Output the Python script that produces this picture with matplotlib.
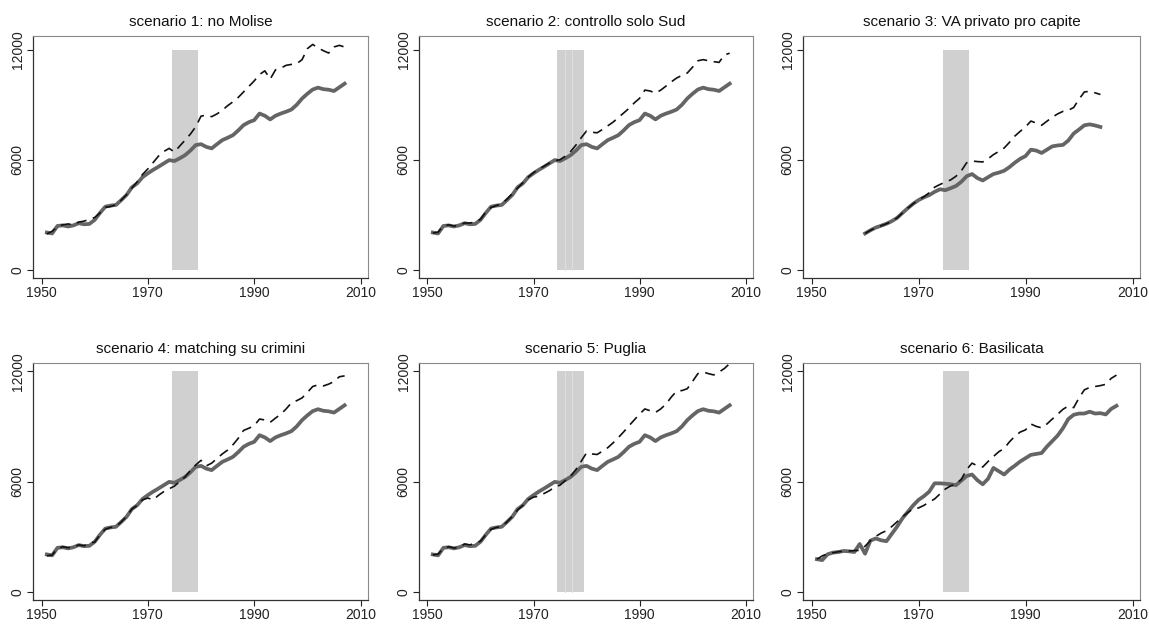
import numpy as np
import matplotlib
matplotlib.use("Agg")
import matplotlib.pyplot as plt

plt.rcParams['font.family'] = ['Liberation Sans', 'DejaVu Sans']

# --- data ---
years = np.arange(1951, 2008)
years3 = np.arange(1960, 2005)
band_years = [1975, 1976, 1977, 1978, 1979]
band_top = 12000

titles = ["scenario 1: no Molise", "scenario 2: controllo solo Sud",
          "scenario 3: VA privato pro capite", "scenario 4: matching su crimini",
          "scenario 5: Puglia", "scenario 6: Basilicata"]

actual = [2030, 1980, 2390, 2420, 2360, 2420, 2540, 2480, 2500, 2720,
          3100, 3440, 3500, 3535, 3800, 4080, 4500, 4710, 5050, 5260,
          5450, 5620, 5800, 5980, 5930, 6080, 6250, 6500, 6800, 6850,
          6700, 6620, 6850, 7070, 7200, 7340, 7600, 7890, 8050, 8160,
          8520, 8400, 8200, 8400, 8520, 8620, 8740, 9000, 9340, 9600,
          9830, 9935, 9850, 9820, 9750, 9950, 10150]

synth1 = [1950, 2100, 2350, 2450, 2500, 2450, 2600, 2650, 2750, 2850,
          3100, 3400, 3450, 3550, 3800, 4100, 4450, 4800, 5200, 5500,
          5850, 6200, 6450, 6620, 6420, 6750, 7070, 7400, 7800, 8380,
          8430, 8350, 8500, 8700, 8950, 9160, 9400, 9700, 10000, 10300,
          10650, 10850, 10400, 10900, 11000, 11150, 11200, 11240, 11460, 12060,
          12290, 12100, 11950, 11820, 12150, 12240, 12150]

synth2 = [2000, 2050, 2400, 2450, 2380, 2450, 2550, 2550, 2600, 2750,
          3150, 3400, 3500, 3600, 3850, 4150, 4450, 4750, 5050, 5300,
          5480, 5650, 5820, 5950, 6000, 6200, 6450, 6800, 7200, 7570,
          7500, 7470, 7650, 7850, 8050, 8300, 8550, 8800, 9100, 9350,
          9800, 9750, 9630, 9800, 10020, 10250, 10460, 10600, 10730, 11050,
          11400, 11460, 11400, 11350, 11310, 11720, 11810]

actual3 = [1980, 2150, 2300, 2400, 2510, 2650, 2830, 3100, 3360, 3600,
           3800, 3950, 4070, 4250, 4390, 4340, 4450, 4570, 4800, 5100,
           5220, 5000, 4870, 5050, 5220, 5300, 5400, 5600, 5840, 6050,
           6200, 6550, 6500, 6370, 6550, 6730, 6780, 6810, 7050, 7430,
           7650, 7880, 7930, 7870, 7790]

synth3 = [1980, 2150, 2300, 2400, 2510, 2650, 2830, 3100, 3360, 3600,
          3820, 3980, 4200, 4500, 4650, 4780, 4900, 5100, 5400, 5840,
          5930, 5900, 5880, 6050, 6280, 6450, 6640, 6950, 7290, 7550,
          7790, 8110, 8000, 7880, 8100, 8320, 8500, 8640, 8700, 8850,
          9300, 9700, 9730, 9650, 9560]

synth4 = [1950, 2000, 2350, 2450, 2400, 2420, 2550, 2500, 2650, 2700,
          3100, 3400, 3500, 3550, 3800, 4100, 4500, 4700, 5000, 5100,
          5000, 5250, 5450, 5600, 5750, 6000, 6250, 6600, 6900, 7150,
          6850, 7000, 7250, 7500, 7710, 8000, 8350, 8780, 8900, 9040,
          9400, 9350, 9220, 9450, 9660, 9950, 10280, 10400, 10550, 10850,
          11170, 11260, 11200, 11300, 11440, 11700, 11750]

synth5 = [2000, 2050, 2350, 2450, 2380, 2420, 2600, 2550, 2650, 2750,
          3100, 3400, 3500, 3550, 3800, 4100, 4450, 4700, 5000, 5150,
          5200, 5350, 5500, 5700, 5800, 6050, 6300, 6650, 7100, 7560,
          7500, 7470, 7650, 7840, 8100, 8390, 8700, 9030, 9350, 9670,
          9950, 9850, 9760, 9950, 10220, 10600, 10920, 10950, 11050, 11450,
          11870, 11960, 11870, 11800, 11960, 12150, 12420]

actual6 = [1770, 1720, 2040, 2130, 2160, 2220, 2200, 2160, 2600, 2070,
           2780, 2900, 2800, 2750, 3150, 3550, 4000, 4350, 4700, 5000,
           5200, 5450, 5900, 5900, 5880, 5850, 5800, 6050, 6300, 6380,
           6070, 5850, 6150, 6740, 6560, 6380, 6650, 6860, 7090, 7270,
           7450, 7500, 7550, 7900, 8200, 8500, 8900, 9400, 9630, 9700,
           9700, 9800, 9700, 9720, 9650, 9950, 10120]

synth6 = [1770, 1950, 2070, 2120, 2180, 2200, 2220, 2240, 2250, 2480,
          2780, 3010, 3190, 3320, 3550, 3810, 4080, 4310, 4520, 4560,
          4700, 4880, 5050, 5320, 5590, 5760, 5850, 6120, 6650, 7000,
          6850, 6790, 7090, 7360, 7620, 7800, 8160, 8460, 8690, 8810,
          9130, 9000, 8920, 9130, 9400, 9660, 9930, 10110, 10020, 10550,
          10990, 11120, 11170, 11220, 11290, 11610, 11790]

panels = [(years, actual, synth1), (years, actual, synth2), (years3, actual3, synth3),
          (years, actual, synth4), (years, actual, synth5), (years, actual6, synth6)]
striped = [False, True, False, False, True, False]

W, H = 1149, 624
fig = plt.figure(figsize=(W / 100, H / 100), dpi=100)

# axes boxes in pixels: left, top, right, bottom
col_x = [(33, 368), (419, 753), (803, 1140)]
row_y = [(36, 278), (363, 600)]
ylims = [(-450, 12750), (-450, 12450)]

for i, (x, act, syn) in enumerate(panels):
    r, c = divmod(i, 3)
    l, rr = col_x[c]
    t, b = row_y[r]
    ax = fig.add_axes([l / W, 1 - b / H, (rr - l) / W, (b - t) / H])
    ax.bar(band_years, [band_top] * len(band_years), width=1.0, color='#d0d0d0',
           linewidth=0, zorder=1)
    if striped[i]:
        for g in (1975.9, 1977.2):
            ax.plot([g, g], [0, band_top], color='#dedede', lw=0.8, zorder=1.5)
    ax.plot(x, act, color='#656565', lw=2.7, zorder=2, solid_joinstyle='round')
    ax.plot(x, syn, color='#111111', lw=1.2, ls=(0, (6, 4)), zorder=3)
    ax.set_xlim(1948.4, 2011.4)
    ax.set_ylim(*ylims[r])
    ax.set_xticks([1950, 1970, 1990, 2010])
    ax.set_yticks([0, 6000, 12000])
    ax.tick_params(axis='both', direction='out', length=4, width=0.8,
                   labelsize=10, colors='#222222', pad=2)
    for lab in ax.get_yticklabels():
        lab.set_rotation(90)
        lab.set_va('center')
    for s in ['left', 'bottom']:
        ax.spines[s].set_color('#333333')
        ax.spines[s].set_linewidth(0.9)
    for s in ['top', 'right']:
        ax.spines[s].set_color('#8a8a8a')
        ax.spines[s].set_linewidth(0.8)
    ax.set_title(titles[i], fontsize=11, pad=7, color='#111111')

fig.savefig("out.png", dpi=100, facecolor='white')
